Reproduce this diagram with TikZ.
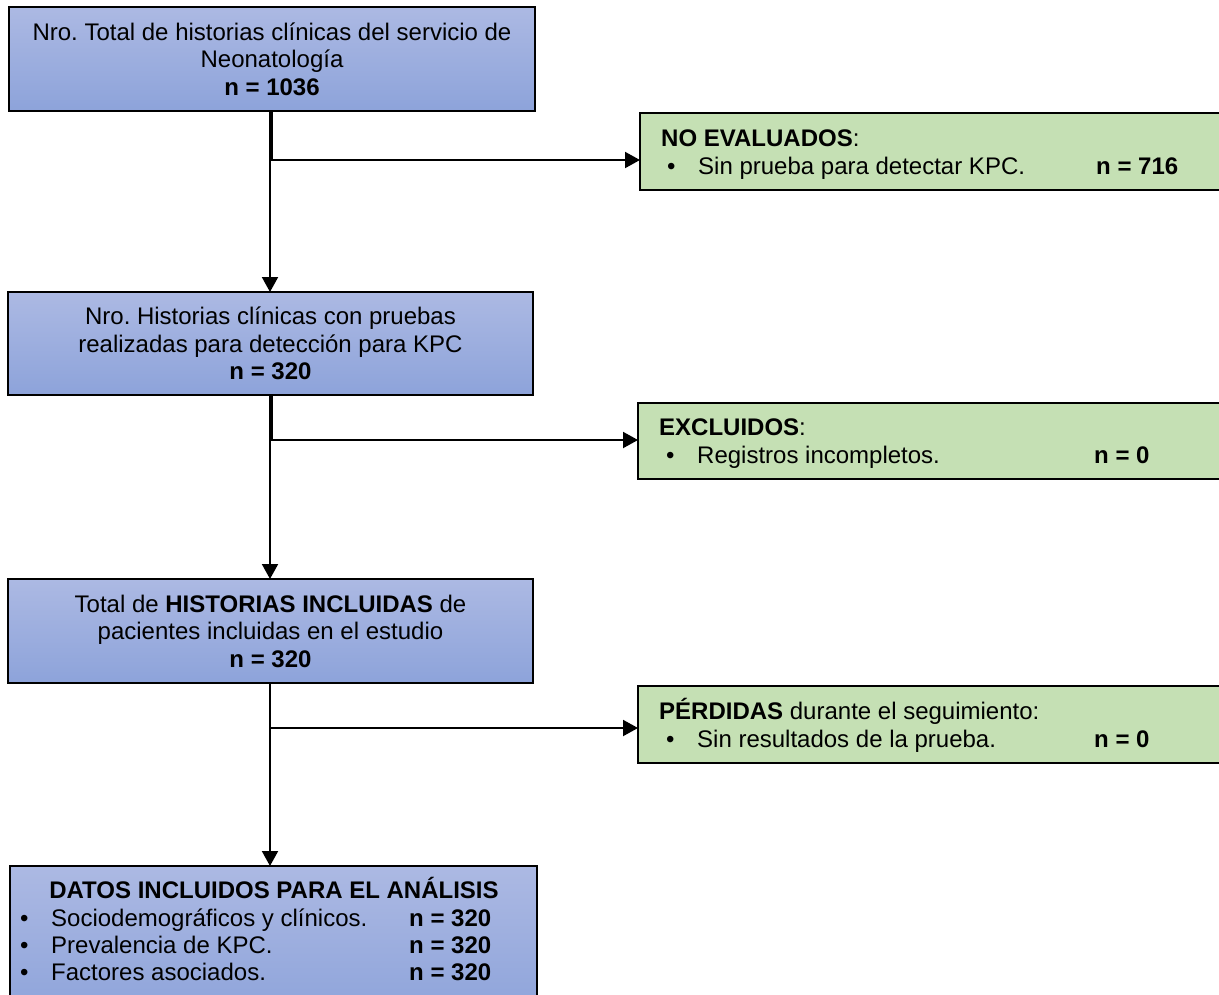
\documentclass[tikz,border=0pt]{standalone}
\usepackage{fontspec}
\setmainfont{Liberation Sans}
\usetikzlibrary{arrows.meta}
\definecolor{bluetop}{RGB}{172,185,227}
\definecolor{bluebot}{RGB}{141,163,218}
\definecolor{greenfill}{RGB}{197,224,180}
\frenchspacing
\begin{document}
\begin{tikzpicture}[x=1pt,y=-1pt,
  box/.style={draw=black, line width=2.2pt, inner sep=0pt, outer sep=0pt},
  bluebox/.style={box, top color=bluetop, bottom color=bluebot, align=center,
    font=\fontsize{24}{27.5}\selectfont},
  greenbox/.style={box, fill=greenfill},
  txt/.style={inner sep=0pt, anchor=base west, font=\fontsize{24}{28}\selectfont},
  conn/.style={draw=black, line width=2pt, -{Triangle[length=15pt,width=16pt]}}]
\useasboundingbox (0,0) rectangle (1219,994);
\clip (0,0) rectangle (1219,994);
\fill[white] (0,0) rectangle (1219,994);

% blue boxes
\node[bluebox, minimum width=526pt, minimum height=104pt] (a) at (272,59)
  {Nro. Total de historias clínicas del servicio de\\Neonatología\\\textbf{n = 1036}};
\node[bluebox, minimum width=525pt, minimum height=103pt] (b) at (270.5,343.5)
  {Nro. Historias clínicas con pruebas\\realizadas para detección para KPC\\\textbf{n = 320}};
\node[bluebox, minimum width=525pt, minimum height=104pt] (c) at (270.5,631)
  {Total de \textbf{HISTORIAS INCLUIDAS} de\\pacientes incluidas en el estudio\\\textbf{n = 320}};
\node[bluebox, minimum width=527pt, minimum height=154pt] (d) at (273.5,943) {};

% green boxes
\node[greenbox, minimum width=600pt, minimum height=77pt] (g1) at (940,151.5) {};
\node[greenbox, minimum width=602pt, minimum height=76pt] (g2) at (939,441) {};
\node[greenbox, minimum width=602pt, minimum height=77pt] (g3) at (939,724.5) {};

% green box texts
\node[txt] (g1t) at (661,146) {\textbf{NO EVALUADOS}:};
\node[txt] (g1b) at (667,174) {\textbullet};
\node[txt] (g1l) at (698,174) {Sin prueba para detectar KPC.};
\node[txt] (g1n) at (1096,174) {\textbf{n = 716}};

\node[txt] (g2t) at (659,435.5) {\textbf{EXCLUIDOS}:};
\node[txt] (g2b) at (666,463.5) {\textbullet};
\node[txt] (g2l) at (697,463.5) {Registros incompletos.};
\node[txt] (g2n) at (1094,463.5) {\textbf{n = 0}};

\node[txt] (g3t) at (659,719) {\textbf{PÉRDIDAS} durante el seguimiento:};
\node[txt] (g3b) at (666,747) {\textbullet};
\node[txt] (g3l) at (697,747) {Sin resultados de la prueba.};
\node[txt] (g3n) at (1094,747) {\textbf{n = 0}};

% bottom box texts
\node[txt, anchor=base] (dt) at (274,898) {\textbf{DATOS INCLUIDOS PARA EL ANÁLISIS}};
\node[txt] (db1) at (20,926) {\textbullet};
\node[txt] (dl1) at (51,926) {Sociodemográficos y clínicos.};
\node[txt] (dn1) at (409,926) {\textbf{n = 320}};
\node[txt] (db2) at (20,953) {\textbullet};
\node[txt] (dl2) at (51,953) {Prevalencia de KPC.};
\node[txt] (dn2) at (409,953) {\textbf{n = 320}};
\node[txt] (db3) at (20,980) {\textbullet};
\node[txt] (dl3) at (51,980) {Factores asociados.};
\node[txt] (dn3) at (409,980) {\textbf{n = 320}};

% connectors
\coordinate (c1) at (270,0);
\coordinate (c2) at (271.8,0);
\draw[conn] (a.south -| c1) -- (b.north -| c1);
\draw[conn] (a.south -| c2) |- ([yshift=-8.5pt]g1.west);
\draw[conn] (b.south -| c1) -- (c.north -| c1);
\draw[conn] (b.south -| c2) |- ([yshift=1pt]g2.west);
\draw[conn] (c.south -| c1) -- (d.north -| c1);
\draw[conn] (c.south -| c1) |- ([yshift=-3.5pt]g3.west);
\end{tikzpicture}
\end{document}
